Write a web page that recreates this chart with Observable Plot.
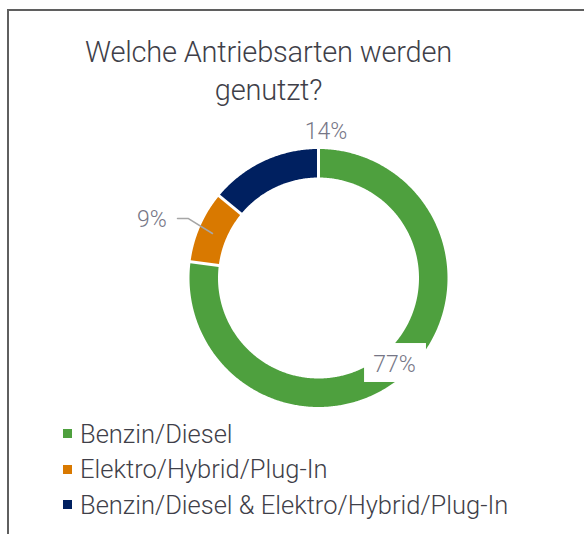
<!DOCTYPE html>
<html><head><meta charset="utf-8">
<script src="https://cdn.jsdelivr.net/npm/d3@7"></script>
<script src="https://cdn.jsdelivr.net/npm/@observablehq/plot@0.6"></script>
<style>
body{margin:0;background:#fff;font-family:Roboto,"DejaVu Sans",sans-serif;}
#wrap{position:relative;width:584px;height:534px;overflow:hidden;background:#fff}
#frame{position:absolute;left:7px;top:9px;width:700px;height:700px;border-left:2px solid #5f5f5f;border-top:2px solid #5f5f5f;}
#title{position:absolute;left:0;width:537px;top:33px;text-align:center;font-size:29px;font-weight:300;letter-spacing:-0.2px;line-height:38px;color:#3f3f49;}
#chart{position:absolute;left:0;top:0}
#legend{position:absolute;left:63px;top:416px;}
.row{height:35.5px;display:flex;align-items:center;font-size:25.5px;font-weight:300;color:#3f3f49;white-space:nowrap}
.sw{width:9px;height:9px;margin-right:8px;flex:none}
</style>
</head><body>
<div id="wrap">
  <div id="frame"></div>
  <div id="chart"></div>
  <div id="title">Welche Antriebsarten werden<br>genutzt?</div>
  <div id="legend"></div>
</div>
<script>
// data
const categories = ["Benzin/Diesel", "Elektro/Hybrid/Plug-In", "Benzin/Diesel & Elektro/Hybrid/Plug-In"];
const shares = [77, 9, 14];
const labels = ["77%", "9%", "14%"];
const colors = ["#4EA03E", "#D97900", "#002060"];

// layout (unit circle coordinates)
const innerR = 0.779;
const labelPos = [[0.589, -0.671], [-1.291, 0.45], [0.058, 1.132]];
const labelBox = {x1: 0.357, x2: 0.837, y1: -0.508, y2: -0.81};
const leader = [[-1.093, 0.461], [-1.008, 0.461], [-0.822, 0.345]];

const total = d3.sum(shares);
const starts = [];
let acc = 0;
for (const s of shares) { starts.push(acc); acc += s; }
const toAngle = v => v / total * 2 * Math.PI;
const polar = (r, a) => ({x: r * Math.sin(a), y: r * Math.cos(a)});

const sliceMarks = shares.map((s, i) => {
  const a0 = toAngle(starts[i]), a1 = toAngle(starts[i] + s);
  const n = Math.max(2, Math.ceil((a1 - a0) / (Math.PI / 360)));
  const pts = [];
  for (let k = 0; k <= n; k++) pts.push(polar(1, a0 + (a1 - a0) * k / n));
  for (let k = n; k >= 0; k--) pts.push(polar(innerR, a0 + (a1 - a0) * k / n));
  return Plot.line(pts, {x: "x", y: "y", fill: colors[i], stroke: "none"});
});

const bounds = starts.map(v => {
  const a = toAngle(v);
  const p = polar(innerR - 0.03, a), q = polar(1.03, a);
  return {x1: p.x, y1: p.y, x2: q.x, y2: q.y};
});

const labelData = labels.map((t, i) => ({t, x: labelPos[i][0], y: labelPos[i][1]}));

const chart = Plot.plot({
  width: 584, height: 534, margin: 0,
  x: {type: "linear", domain: [-1, 1], range: [189, 447], axis: null},
  y: {type: "linear", domain: [-1, 1], range: [406.5, 148.5], axis: null},
  marks: [
    ...sliceMarks,
    Plot.link(bounds, {x1: "x1", y1: "y1", x2: "x2", y2: "y2", stroke: "white", strokeWidth: 3}),
    Plot.rect([labelBox], {x1: "x1", x2: "x2", y1: "y1", y2: "y2", fill: "white"}),
    Plot.line(leader, {x: d => d[0], y: d => d[1], stroke: "#a6a6a6", strokeWidth: 1.5}),
    Plot.text(labelData, {x: "x", y: "y", text: "t", fill: "#767686", fontSize: 23, fontWeight: 300, fontFamily: "Roboto"})
  ]
});
chart.style.background = "transparent";
document.getElementById("chart").appendChild(chart);

const legend = document.getElementById("legend");
categories.forEach((c, i) => {
  const row = document.createElement("div");
  row.className = "row";
  const sw = document.createElement("span");
  sw.className = "sw";
  sw.style.background = colors[i];
  const tx = document.createElement("span");
  tx.textContent = c;
  row.appendChild(sw); row.appendChild(tx);
  legend.appendChild(row);
});
</script>
</body></html>
